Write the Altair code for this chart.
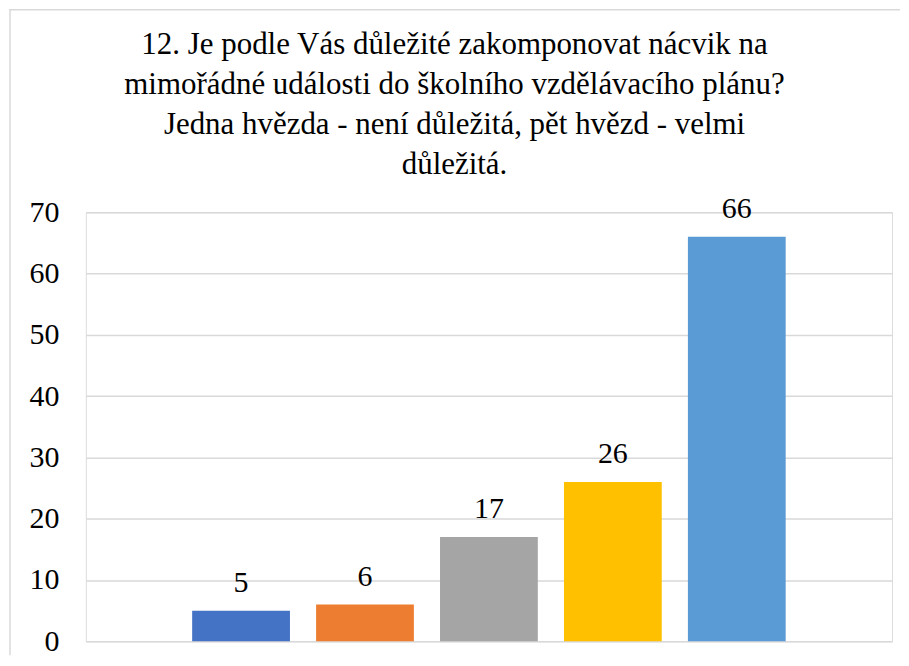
import altair as alt
import pandas as pd

categories = ["1", "2", "3", "4", "5"]
values = [5, 6, 17, 26, 66]
colors = ["#4472C4", "#ED7D31", "#A5A5A5", "#FFC000", "#5B9BD5"]
title_lines = [
    "12. Je podle Vás důležité zakomponovat nácvik na",
    "mimořádné události do školního vzdělávacího plánu?",
    "Jedna hvězda - není důležitá, pět hvězd - velmi",
    "důležitá.",
]

df = pd.DataFrame({"cat": categories, "val": values})
FONT = "'Liberation Serif', 'Times New Roman', serif"
W, H = 808, 430

x = alt.X("cat:N", sort=categories,
          scale=alt.Scale(paddingInner=0.211, paddingOuter=0.858),
          axis=None)
y = alt.Y("val:Q", scale=alt.Scale(domain=[0, 70], nice=False),
          axis=alt.Axis(values=list(range(0, 71, 10)), domain=False, ticks=False,
                        labelPadding=27, labelFontSize=30, labelFont=FONT,
                        labelColor="#000000", gridColor="#D9D9D9", gridWidth=1.5,
                        title=None))

bars = alt.Chart(df).mark_bar().encode(
    x=x, y=y,
    color=alt.Color("cat:N", scale=alt.Scale(domain=categories, range=colors), legend=None),
)
labels = alt.Chart(df).mark_text(baseline="alphabetic", dy=-19, fontSize=30,
                                 font=FONT, color="#000000").encode(
    x=x, y=alt.Y("val:Q"), text=alt.Text("val:Q"))

border_df = pd.DataFrame({"k": [0]})
top_rule = alt.Chart(border_df).mark_rule(color="#D9D9D9", strokeWidth=1.5).encode(
    x=alt.value(-77), x2=alt.value(W + 8), y=alt.value(-203))
left_rule = alt.Chart(border_df).mark_rule(color="#D9D9D9", strokeWidth=1.5).encode(
    x=alt.value(-76), y=alt.value(-203), y2=alt.value(H + 14))

chart = alt.layer(top_rule, left_rule, bars, labels).properties(
    width=W, height=H,
    padding=0,
    title=alt.TitleParams(text=title_lines, font=FONT, fontSize=31, fontWeight="normal",
                          lineHeight=40, color="#000000", anchor="middle",
                          frame="bounds", offset=-172),
).configure_view(strokeWidth=0, stroke="transparent").configure(font=FONT)

chart.save("out.html", embed_options={"renderer": "svg", "actions": False})
